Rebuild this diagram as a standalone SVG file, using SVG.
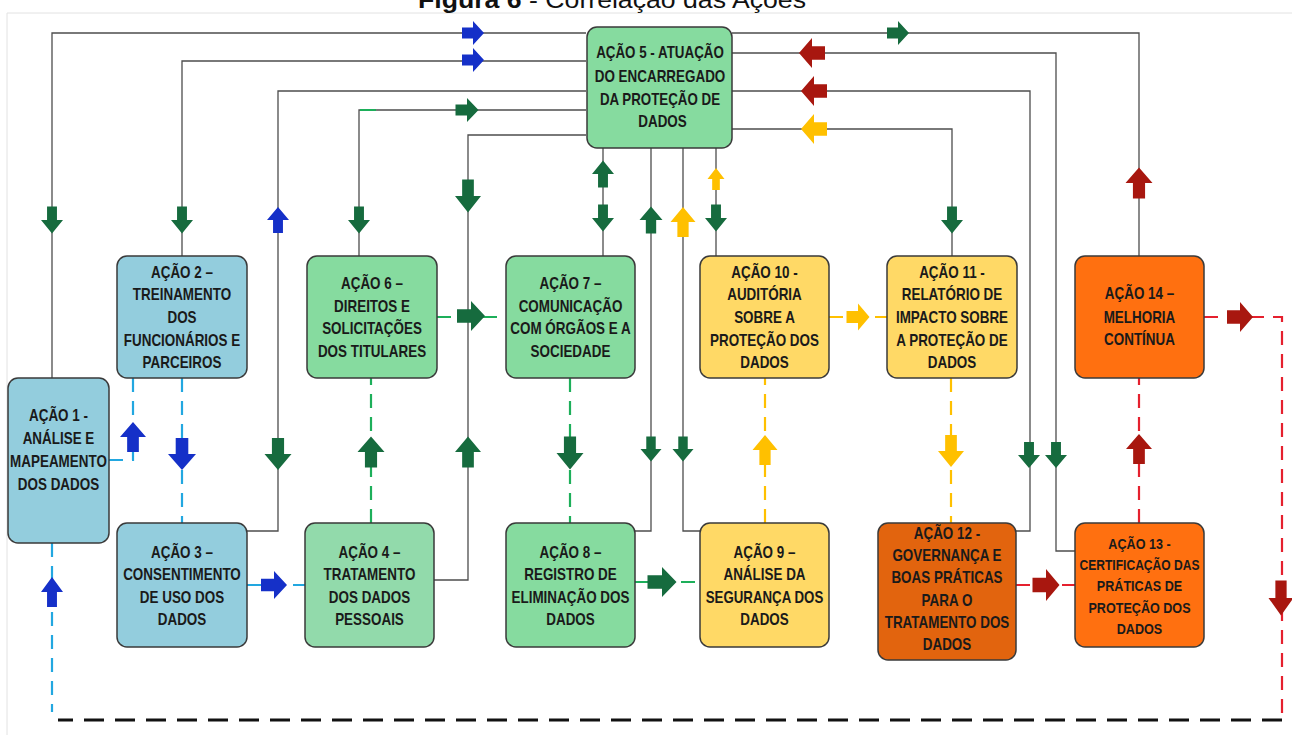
<svg xmlns="http://www.w3.org/2000/svg" xmlns:xlink="http://www.w3.org/1999/xlink" width="1292" height="735" viewBox="0 0 1292 735">
<style>
.t{font-family:"Liberation Sans",Arial,sans-serif;font-weight:bold;font-size:16px;fill:#1a1a1a;text-anchor:middle}
.s13{font-size:15px}
.box{stroke:#3a3a3a;stroke-width:1.5}
.blue{fill:#93CDDD}.green{fill:#86DB9F}.green2{fill:#92DAAB}.yel{fill:#FFD966}.or{fill:#FF7010}.or2{fill:#E2640E}
.sl{fill:none;stroke:#4d4d4d;stroke-width:1.3}
.dl{fill:none;stroke-width:2.2;stroke-dasharray:14 9}
.db{stroke:#22A7E0}.dg{stroke:#1DAF5A}.dy{stroke:#FFC000}.dr{stroke:#E5202E}
.ab{fill:#1530C8}.ag{fill:#166B3E}.ay{fill:#FFC000}.ar{fill:#A8170F}
</style>
<defs>
<path id="a" d="M-1,-0.45H0V-1L1,0L0,1V0.45H-1Z"/>
</defs>
<rect x="0" y="0" width="1292" height="735" fill="#ffffff"/>
<path d="M7,735V13H1292" fill="none" stroke="#e2e2e2" stroke-width="1"/>
<text x="418" y="8" font-family="'Liberation Sans',Arial,sans-serif" font-size="24" fill="#111" textLength="388" lengthAdjust="spacingAndGlyphs"><tspan font-weight="bold">Figura 6</tspan> - Correlação das Ações</text>

<g id="connectors">
<path class="sl" d="M586,33H52V378"/>
<path class="sl" d="M586,61H182V256"/>
<path class="sl" d="M586,91H278V531H247"/>
<path class="sl" d="M586,110H359V256"/>
<path class="sl" d="M586,135H468V580H434"/>
<path class="sl" d="M603,148V256"/>
<path class="sl" d="M651,148V531H635"/>
<path class="sl" d="M683,148V531H700"/>
<path class="sl" d="M716,148V256"/>
<path class="sl" d="M732,33H1139V256"/>
<path class="sl" d="M732,53H1056V551H1075"/>
<path class="sl" d="M732,91H1030V531H1016"/>
<path class="sl" d="M732,129H952V256"/>
<path d="M360,110H376" stroke="#1DAF5A" stroke-width="2" fill="none"/>

<path class="dl db" d="M109,460H133V378"/>
<path class="dl db" d="M182,378V523"/>
<path class="dl db" d="M247,585H305"/>
<path class="dl db" d="M52,543V712"/>
<path class="dl dg" d="M371,523V378"/>
<path class="dl dg" d="M437,317H506"/>
<path class="dl dg" d="M570,378V523"/>
<path class="dl dg" d="M635,582H700"/>
<path class="dl dy" d="M765,523V378"/>
<path class="dl dy" d="M829,317H887"/>
<path class="dl dy" d="M951,378V523"/>
<path class="dl dr" d="M1016,585H1075"/>
<path class="dl dr" d="M1139,523V378"/>
<path class="dl dr" d="M1204,317H1282V720"/>
<path d="M1282,720H58" fill="none" stroke="#111" stroke-width="3" stroke-dasharray="20 11"/>

<use href="#a" class="ab" transform="translate(473,33) scale(11,12)"/>
<use href="#a" class="ab" transform="translate(473,60) scale(11,12)"/>
<use href="#a" class="ab" transform="translate(278,220) rotate(-90) scale(13,11)"/>
<use href="#a" class="ab" transform="translate(133,437) rotate(-90) scale(15,13)"/>
<use href="#a" class="ab" transform="translate(182,454) rotate(90) scale(16,14)"/>
<use href="#a" class="ab" transform="translate(274,585) scale(13,14)"/>
<use href="#a" class="ab" transform="translate(52,592) rotate(-90) scale(15,11)"/>

<use href="#a" class="ag" transform="translate(52,220) rotate(90) scale(13.5,11)"/>
<use href="#a" class="ag" transform="translate(182,220) rotate(90) scale(13.5,11)"/>
<use href="#a" class="ag" transform="translate(359,220) rotate(90) scale(13.5,11)"/>
<use href="#a" class="ag" transform="translate(468,196) rotate(90) scale(16.5,13)"/>
<use href="#a" class="ag" transform="translate(471,316) scale(14,15)"/>
<use href="#a" class="ag" transform="translate(468,452) rotate(-90) scale(15.5,13)"/>
<use href="#a" class="ag" transform="translate(278,454) rotate(90) scale(16,13.5)"/>
<use href="#a" class="ag" transform="translate(371,452) rotate(-90) scale(15.5,13.5)"/>
<use href="#a" class="ag" transform="translate(467,110) scale(11.5,12)"/>
<use href="#a" class="ag" transform="translate(603,174) rotate(-90) scale(13.5,11)"/>
<use href="#a" class="ag" transform="translate(603,218) rotate(90) scale(13.5,11)"/>
<use href="#a" class="ag" transform="translate(651,220) rotate(-90) scale(13.5,11.5)"/>
<use href="#a" class="ag" transform="translate(716,218) rotate(90) scale(13.5,11)"/>
<use href="#a" class="ag" transform="translate(898,33) scale(11,12)"/>
<use href="#a" class="ag" transform="translate(952,220) rotate(90) scale(13.5,11)"/>
<use href="#a" class="ag" transform="translate(570,453) rotate(90) scale(16.5,13.5)"/>
<use href="#a" class="ag" transform="translate(651,449) rotate(90) scale(12.5,10.5)"/>
<use href="#a" class="ag" transform="translate(683,449) rotate(90) scale(12.5,10.5)"/>
<use href="#a" class="ag" transform="translate(662,582) scale(14.5,15)"/>
<use href="#a" class="ag" transform="translate(1029,455) rotate(90) scale(13,11)"/>
<use href="#a" class="ag" transform="translate(1056,455) rotate(90) scale(13,11)"/>

<use href="#a" class="ay" transform="translate(716,179) rotate(-90) scale(11,8.5)"/>
<use href="#a" class="ay" transform="translate(683,222) rotate(-90) scale(15,12.5)"/>
<use href="#a" class="ay" transform="translate(814,129) rotate(180) scale(13,15)"/>
<use href="#a" class="ay" transform="translate(765,450) rotate(-90) scale(15,12.5)"/>
<use href="#a" class="ay" transform="translate(858,317) scale(11.5,13.5)"/>
<use href="#a" class="ay" transform="translate(951,451) rotate(90) scale(16,13)"/>

<use href="#a" class="ar" transform="translate(812,53) rotate(180) scale(13,15)"/>
<use href="#a" class="ar" transform="translate(814,91) rotate(180) scale(13,15)"/>
<use href="#a" class="ar" transform="translate(1139,183) rotate(-90) scale(15.5,13.5)"/>
<use href="#a" class="ar" transform="translate(1139,449) rotate(-90) scale(15,13)"/>
<use href="#a" class="ar" transform="translate(1046,585) scale(13.5,16)"/>
<use href="#a" class="ar" transform="translate(1240,317) scale(13,15)"/>
<use href="#a" class="ar" transform="translate(1281,598) rotate(90) scale(17.5,12.5)"/>
</g>

<g id="n1">
<rect class="box blue" x="8" y="378" width="101" height="165" rx="10"/>
<g transform="matrix(0.84 0 0 1 9.36 0)">
<text class="t" x="58.5" y="421">AÇÃO 1 -</text>
<text class="t" x="58.5" y="444">ANÁLISE E</text>
<text class="t" x="58.5" y="467">MAPEAMENTO</text>
<text class="t" x="58.5" y="490">DOS DADOS</text>
</g>
</g>
<g id="n2">
<rect class="box blue" x="117" y="256" width="130" height="122" rx="10"/>
<g transform="matrix(0.84 0 0 1 29.12 0)">
<text class="t" x="182" y="278">AÇÃO 2 –</text>
<text class="t" x="182" y="300">TREINAMENTO</text>
<text class="t" x="182" y="323">DOS</text>
<text class="t" x="182" y="346">FUNCIONÁRIOS E</text>
<text class="t" x="182" y="368">PARCEIROS</text>
</g>
</g>
<g id="n3">
<rect class="box blue" x="117" y="523" width="130" height="124" rx="10"/>
<g transform="matrix(0.84 0 0 1 29.12 0)">
<text class="t" x="182" y="558">AÇÃO 3 –</text>
<text class="t" x="182" y="580">CONSENTIMENTO</text>
<text class="t" x="182" y="603">DE USO DOS</text>
<text class="t" x="182" y="625">DADOS</text>
</g>
</g>
<g id="n4">
<rect class="box green2" x="305" y="523" width="129" height="124" rx="10"/>
<g transform="matrix(0.84 0 0 1 59.12 0)">
<text class="t" x="369.5" y="558">AÇÃO 4 –</text>
<text class="t" x="369.5" y="580">TRATAMENTO</text>
<text class="t" x="369.5" y="603">DOS DADOS</text>
<text class="t" x="369.5" y="625">PESSOAIS</text>
</g>
</g>
<g id="n5">
<rect class="box green" x="587" y="27" width="145" height="121" rx="10"/>
<g transform="matrix(0.84 0 0 1 105.6 0)">
<text class="t" x="660" y="58" textLength="152" lengthAdjust="spacingAndGlyphs">AÇÃO 5 - ATUAÇÃO</text>
<text class="t" x="660" y="82">DO ENCARREGADO</text>
<text class="t" x="660" y="105" textLength="143" lengthAdjust="spacingAndGlyphs">DA PROTEÇÃO DE</text>
<text class="t" x="663" y="127">DADOS</text>
</g>
</g>
<g id="n6">
<rect class="box green" x="307" y="256" width="130" height="122" rx="10"/>
<g transform="matrix(0.84 0 0 1 59.52 0)">
<text class="t" x="372" y="289">AÇÃO 6 –</text>
<text class="t" x="372" y="312">DIREITOS E</text>
<text class="t" x="372" y="334">SOLICITAÇÕES</text>
<text class="t" x="372" y="357">DOS TITULARES</text>
</g>
</g>
<g id="n7">
<rect class="box green" x="506" y="256" width="129" height="122" rx="10"/>
<g transform="matrix(0.84 0 0 1 91.28 0)">
<text class="t" x="570.5" y="289">AÇÃO 7 –</text>
<text class="t" x="570.5" y="312">COMUNICAÇÃO</text>
<text class="t" x="570.5" y="334">COM ÓRGÃOS E A</text>
<text class="t" x="570.5" y="357">SOCIEDADE</text>
</g>
</g>
<g id="n8">
<rect class="box green" x="506" y="523" width="129" height="124" rx="10"/>
<g transform="matrix(0.84 0 0 1 91.28 0)">
<text class="t" x="570.5" y="558">AÇÃO 8 –</text>
<text class="t" x="570.5" y="580">REGISTRO DE</text>
<text class="t" x="570.5" y="603">ELIMINAÇÃO DOS</text>
<text class="t" x="570.5" y="625">DADOS</text>
</g>
</g>
<g id="n9">
<rect class="box yel" x="700" y="523" width="129" height="124" rx="10"/>
<g transform="matrix(0.84 0 0 1 122.32 0)">
<text class="t" x="764.5" y="558">AÇÃO 9 –</text>
<text class="t" x="764.5" y="580">ANÁLISE DA</text>
<text class="t" x="764.5" y="603" textLength="140" lengthAdjust="spacingAndGlyphs">SEGURANÇA DOS</text>
<text class="t" x="764.5" y="625">DADOS</text>
</g>
</g>
<g id="n10">
<rect class="box yel" x="700" y="256" width="129" height="122" rx="10"/>
<g transform="matrix(0.84 0 0 1 122.32 0)">
<text class="t" x="764.5" y="278">AÇÃO 10 -</text>
<text class="t" x="764.5" y="300">AUDITÓRIA</text>
<text class="t" x="764.5" y="323">SOBRE A</text>
<text class="t" x="764.5" y="346">PROTEÇÃO DOS</text>
<text class="t" x="764.5" y="368">DADOS</text>
</g>
</g>
<g id="n11">
<rect class="box yel" x="887" y="256" width="130" height="122" rx="10"/>
<g transform="matrix(0.84 0 0 1 152.32 0)">
<text class="t" x="952" y="278">AÇÃO 11 -</text>
<text class="t" x="952" y="300">RELATÓRIO DE</text>
<text class="t" x="952" y="323">IMPACTO SOBRE</text>
<text class="t" x="952" y="346">A PROTEÇÃO DE</text>
<text class="t" x="952" y="368">DADOS</text>
</g>
</g>
<g id="n12">
<rect class="box or2" x="878" y="523" width="138" height="137" rx="10"/>
<g transform="matrix(0.84 0 0 1 151.52 0)">
<text class="t" x="947" y="539">AÇÃO 12 -</text>
<text class="t" x="947" y="561">GOVERNANÇA E</text>
<text class="t" x="947" y="583">BOAS PRÁTICAS</text>
<text class="t" x="947" y="606">PARA O</text>
<text class="t" x="947" y="628">TRATAMENTO DOS</text>
<text class="t" x="947" y="650">DADOS</text>
</g>
</g>
<g id="n13">
<rect class="box or" x="1075" y="523" width="129" height="124" rx="10"/>
<g transform="matrix(0.84 0 0 1 182.32 0)">
<text class="t s13" x="1139.5" y="549">AÇÃO 13 -</text>
<text class="t s13" x="1139.5" y="570" textLength="143" lengthAdjust="spacingAndGlyphs">CERTIFICAÇÃO DAS</text>
<text class="t s13" x="1139.5" y="591">PRÁTICAS DE</text>
<text class="t s13" x="1139.5" y="613">PROTEÇÃO DOS</text>
<text class="t s13" x="1139.5" y="634">DADOS</text>
</g>
</g>
<g id="n14">
<rect class="box or" x="1075" y="256" width="129" height="122" rx="10"/>
<g transform="matrix(0.84 0 0 1 182.32 0)">
<text class="t" x="1139.5" y="299">AÇÃO 14 –</text>
<text class="t" x="1139.5" y="323">MELHORIA</text>
<text class="t" x="1139.5" y="345">CONTÍNUA</text>
</g>
</g>
</svg>
